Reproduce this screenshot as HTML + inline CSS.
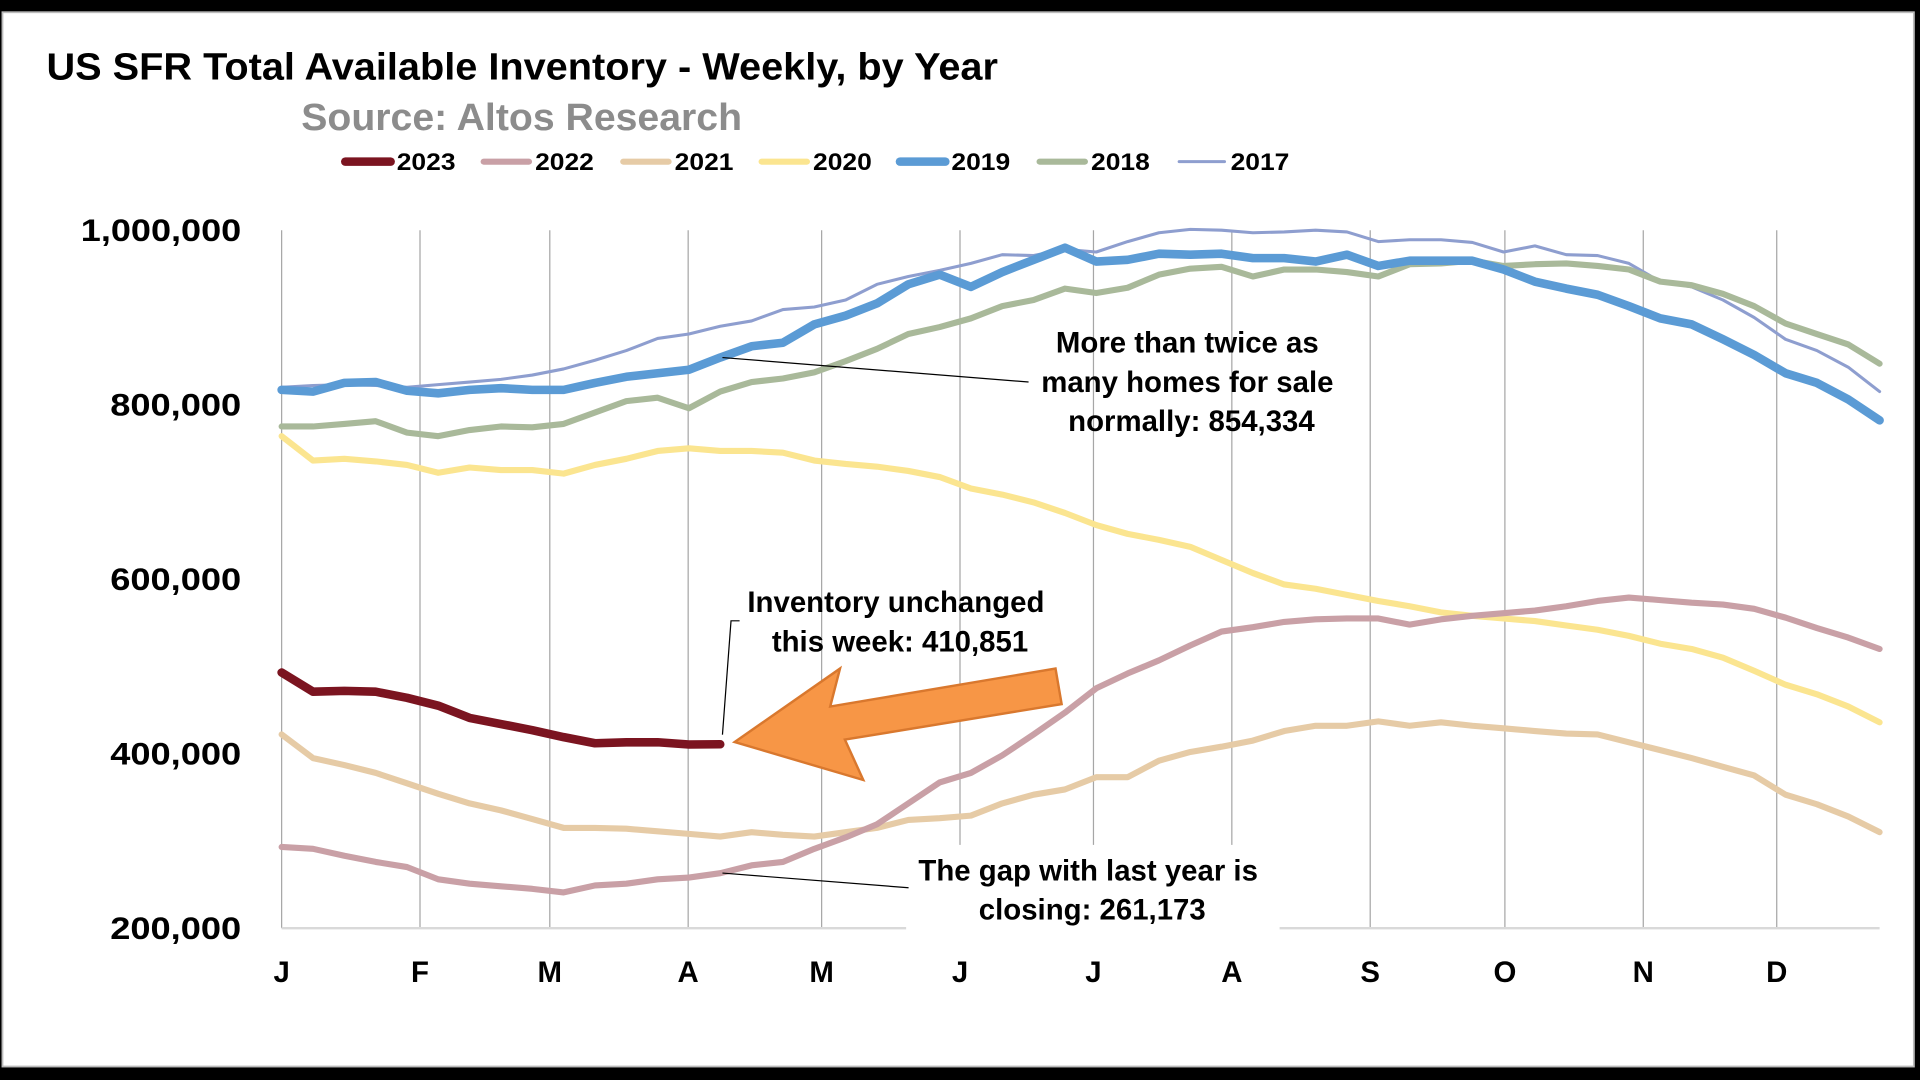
<!DOCTYPE html>
<html><head><meta charset="utf-8"><style>
html,body{margin:0;padding:0;background:#000;width:1920px;height:1080px;overflow:hidden}
svg{display:block}
text{font-family:"Liberation Sans",sans-serif;font-weight:bold}
</style></head><body>
<svg id="chart" width="1920" height="1080" viewBox="0 0 1568 882" xmlns="http://www.w3.org/2000/svg">
<rect x="0" y="0" width="1568" height="882" fill="#000"/>
<rect x="2" y="10" width="1561" height="861" fill="#fff" stroke="#bbb" stroke-width="1.5"/>
<text x="38" y="65" font-size="31" fill="#000" textLength="777" lengthAdjust="spacingAndGlyphs">US SFR Total Available Inventory - Weekly, by Year</text>
<text x="246" y="106" font-size="31" fill="#8c8c8c" textLength="360" lengthAdjust="spacingAndGlyphs">Source: Altos Research</text>
<g id="legend"></g>
<g id="grid"></g>
<g id="yaxis"></g>
<g id="xaxis"></g>
<g id="series"></g>
<g>
  <rect x="740" y="690" width="305" height="76" fill="#fff"/>
  <polyline points="590,292 840,312" fill="none" stroke="#000" stroke-width="1"/>
  <polyline points="604,507 597,507 590,600" fill="none" stroke="#000" stroke-width="1"/>
  <polyline points="590,713 742,725" fill="none" stroke="#000" stroke-width="1"/>
  <polygon points="600,606 686,546 678,577 862,546 867,575 690,604 705,637" fill="#f79646" stroke="#d9782e" stroke-width="2"/>
  <text font-size="24" text-anchor="middle" fill="#000">
    <tspan x="973" y="288">More than twice as</tspan>
    <tspan x="973" y="320">many homes for sale</tspan>
    <tspan x="973" y="352">normally: 854,334</tspan>
  </text>
  <text font-size="24" text-anchor="middle" fill="#000">
    <tspan x="735" y="500">Inventory unchanged</tspan>
    <tspan x="735" y="532">this week: 410,851</tspan>
  </text>
  <text font-size="24" text-anchor="middle" fill="#000">
    <tspan x="892" y="719">The gap with last year is</tspan>
    <tspan x="892" y="751">closing:  261,173</tspan>
  </text>
</g>
</svg>
<script>
const years = ["2023","2022","2021","2020","2019","2018","2017"];
const months = ["J","F","M","A","M","J","J","A","S","O","N","D"];
const yTicks = [200000,400000,600000,800000,1000000];
const yTickLabels = ["200,000","400,000","600,000","800,000","1,000,000"];
// values in thousands, weekly
const s2023 = [493,471,472,471,464,455,441,434,427,419,412,413,413,410.5,410.851];
const s2022 = [293,291,283,276,270,256,251,248,245,241,249,251,256,258,263,272,276,291,304,319,343,367,378,398,422,447,475,492,507,524,540,545,551,554,555,555,548,554,558,561,564,569,575,579,576,573,571,566,556,544,533,520];
const s2021 = [422,395,387,378,366,354,343,335,325,315,315,314,311,308,305,310,307,305,310,315,324,326,329,343,353,359,373,373,392,402,408,415,426,432,432,437,432,436,432,429,426,423,422,413,404,395,385,375,353,342,328,310];
const s2020 = [764,736,738,735,731,722,728,725,725,721,731,738,747,750,747,747,745,736,732,729,724,717,704,697,688,676,662,652,645,637,622,607,594,589,582,575,569,562,558,555,552,547,542,535,526,520,510,495,479,468,454,436];
const s2019 = [817,815,825,826,816,813,817,819,817,817,825,832,836,840,854,867,871,892,902,916,938,949,935,952,966,980,964,966,973,972,973,968,968,964,972,959,965,965,965,955,941,933,926,913,899,892,875,857,836,825,806,782];
const s2018 = [775,775,778,781,768,764,771,775,774,778,791,804,808,796,815,826,830,837,850,864,881,889,899,913,920,933,928,934,949,956,958,947,955,955,952,947,961,962,965,959,961,962,959,955,941,937,927,913,893,881,869,847];
const s2017 = [820,822,823,822,820,823,826,829,834,841,851,862,876,881,890,896,909,912,920,938,947,954,962,972,971,978,975,987,997,1001,1000,997,998,1000,998,987,989,989,986,975,982,972,971,962,941,935,920,900,875,862,843,815];
const seriesData = [s2023,s2022,s2021,s2020,s2019,s2018,s2017];
const colors = ["#7b1420","#c9a0a6","#e6cba6","#fbe590","#5b9bd5","#a9b99a","#8e9ecf"];
const widths = [7,5,5,5,7,5,2.5];

const NS="http://www.w3.org/2000/svg";
const X0=230,X1=1535,Y0=758,Y1=188;
const monthX=[230,343,449,562,671,784,893,1006,1119,1229,1342,1451];
function xScale(i){return X0+i*(X1-X0)/51;}
function yScale(v){return Y0-(v-200000)/800000*(Y0-Y1);}
function mk(tag,attrs,parent){const e=document.createElementNS(NS,tag);for(const k in attrs)e.setAttribute(k,attrs[k]);parent.appendChild(e);return e;}

const grid=document.getElementById('grid');
monthX.forEach((x,i)=>{
  const l=mk('line',{x1:x,x2:x,y1:Y1,y2:Y0,stroke:'#a6a6a6','stroke-width':1},grid);
  
  
});
const base=mk('line',{x1:X0,x2:X1,y1:Y0,y2:Y0,stroke:'#d9d9d9','stroke-width':2},grid);



const ya=document.getElementById('yaxis');
yTicks.forEach((v,i)=>{
  const len=yTickLabels[i].length>8?131:107;
  const t=mk('text',{x:197,y:yScale(v)+9,'font-size':26,'text-anchor':'end',fill:'#000',textLength:len,lengthAdjust:'spacingAndGlyphs'},ya);
  t.textContent=yTickLabels[i];
  
  
});
const xa=document.getElementById('xaxis');
months.forEach((m,i)=>{
  const t=mk('text',{x:monthX[i],y:802,'font-size':24,'text-anchor':'middle',fill:'#000'},xa);
  t.textContent=m;
  
  
});

const sg=document.getElementById('series');
for(let k=seriesData.length-1;k>=0;k--){
  const pts=seriesData[k].map((v,i)=>xScale(i).toFixed(1)+','+yScale(v*1000).toFixed(1)).join(' ');
  const p=mk('polyline',{points:pts,fill:'none',stroke:colors[k],'stroke-width':widths[k],'stroke-linejoin':'round','stroke-linecap':'round'},sg);
  
  
}

const lg=document.getElementById('legend');
const legX=[279,392,506,619,732,846,960];
years.forEach((y,k)=>{
  const g=mk('g',{},lg);
  
  
  mk('line',{x1:legX[k]+3,x2:legX[k]+40,y1:132,y2:132,stroke:colors[k],'stroke-width':widths[k],'stroke-linecap':'round'},g);
  const t=mk('text',{x:legX[k]+45,y:139,'font-size':20,fill:'#000',textLength:48,lengthAdjust:'spacingAndGlyphs'},g);
  t.textContent=y;
});
</script>
</body></html>
